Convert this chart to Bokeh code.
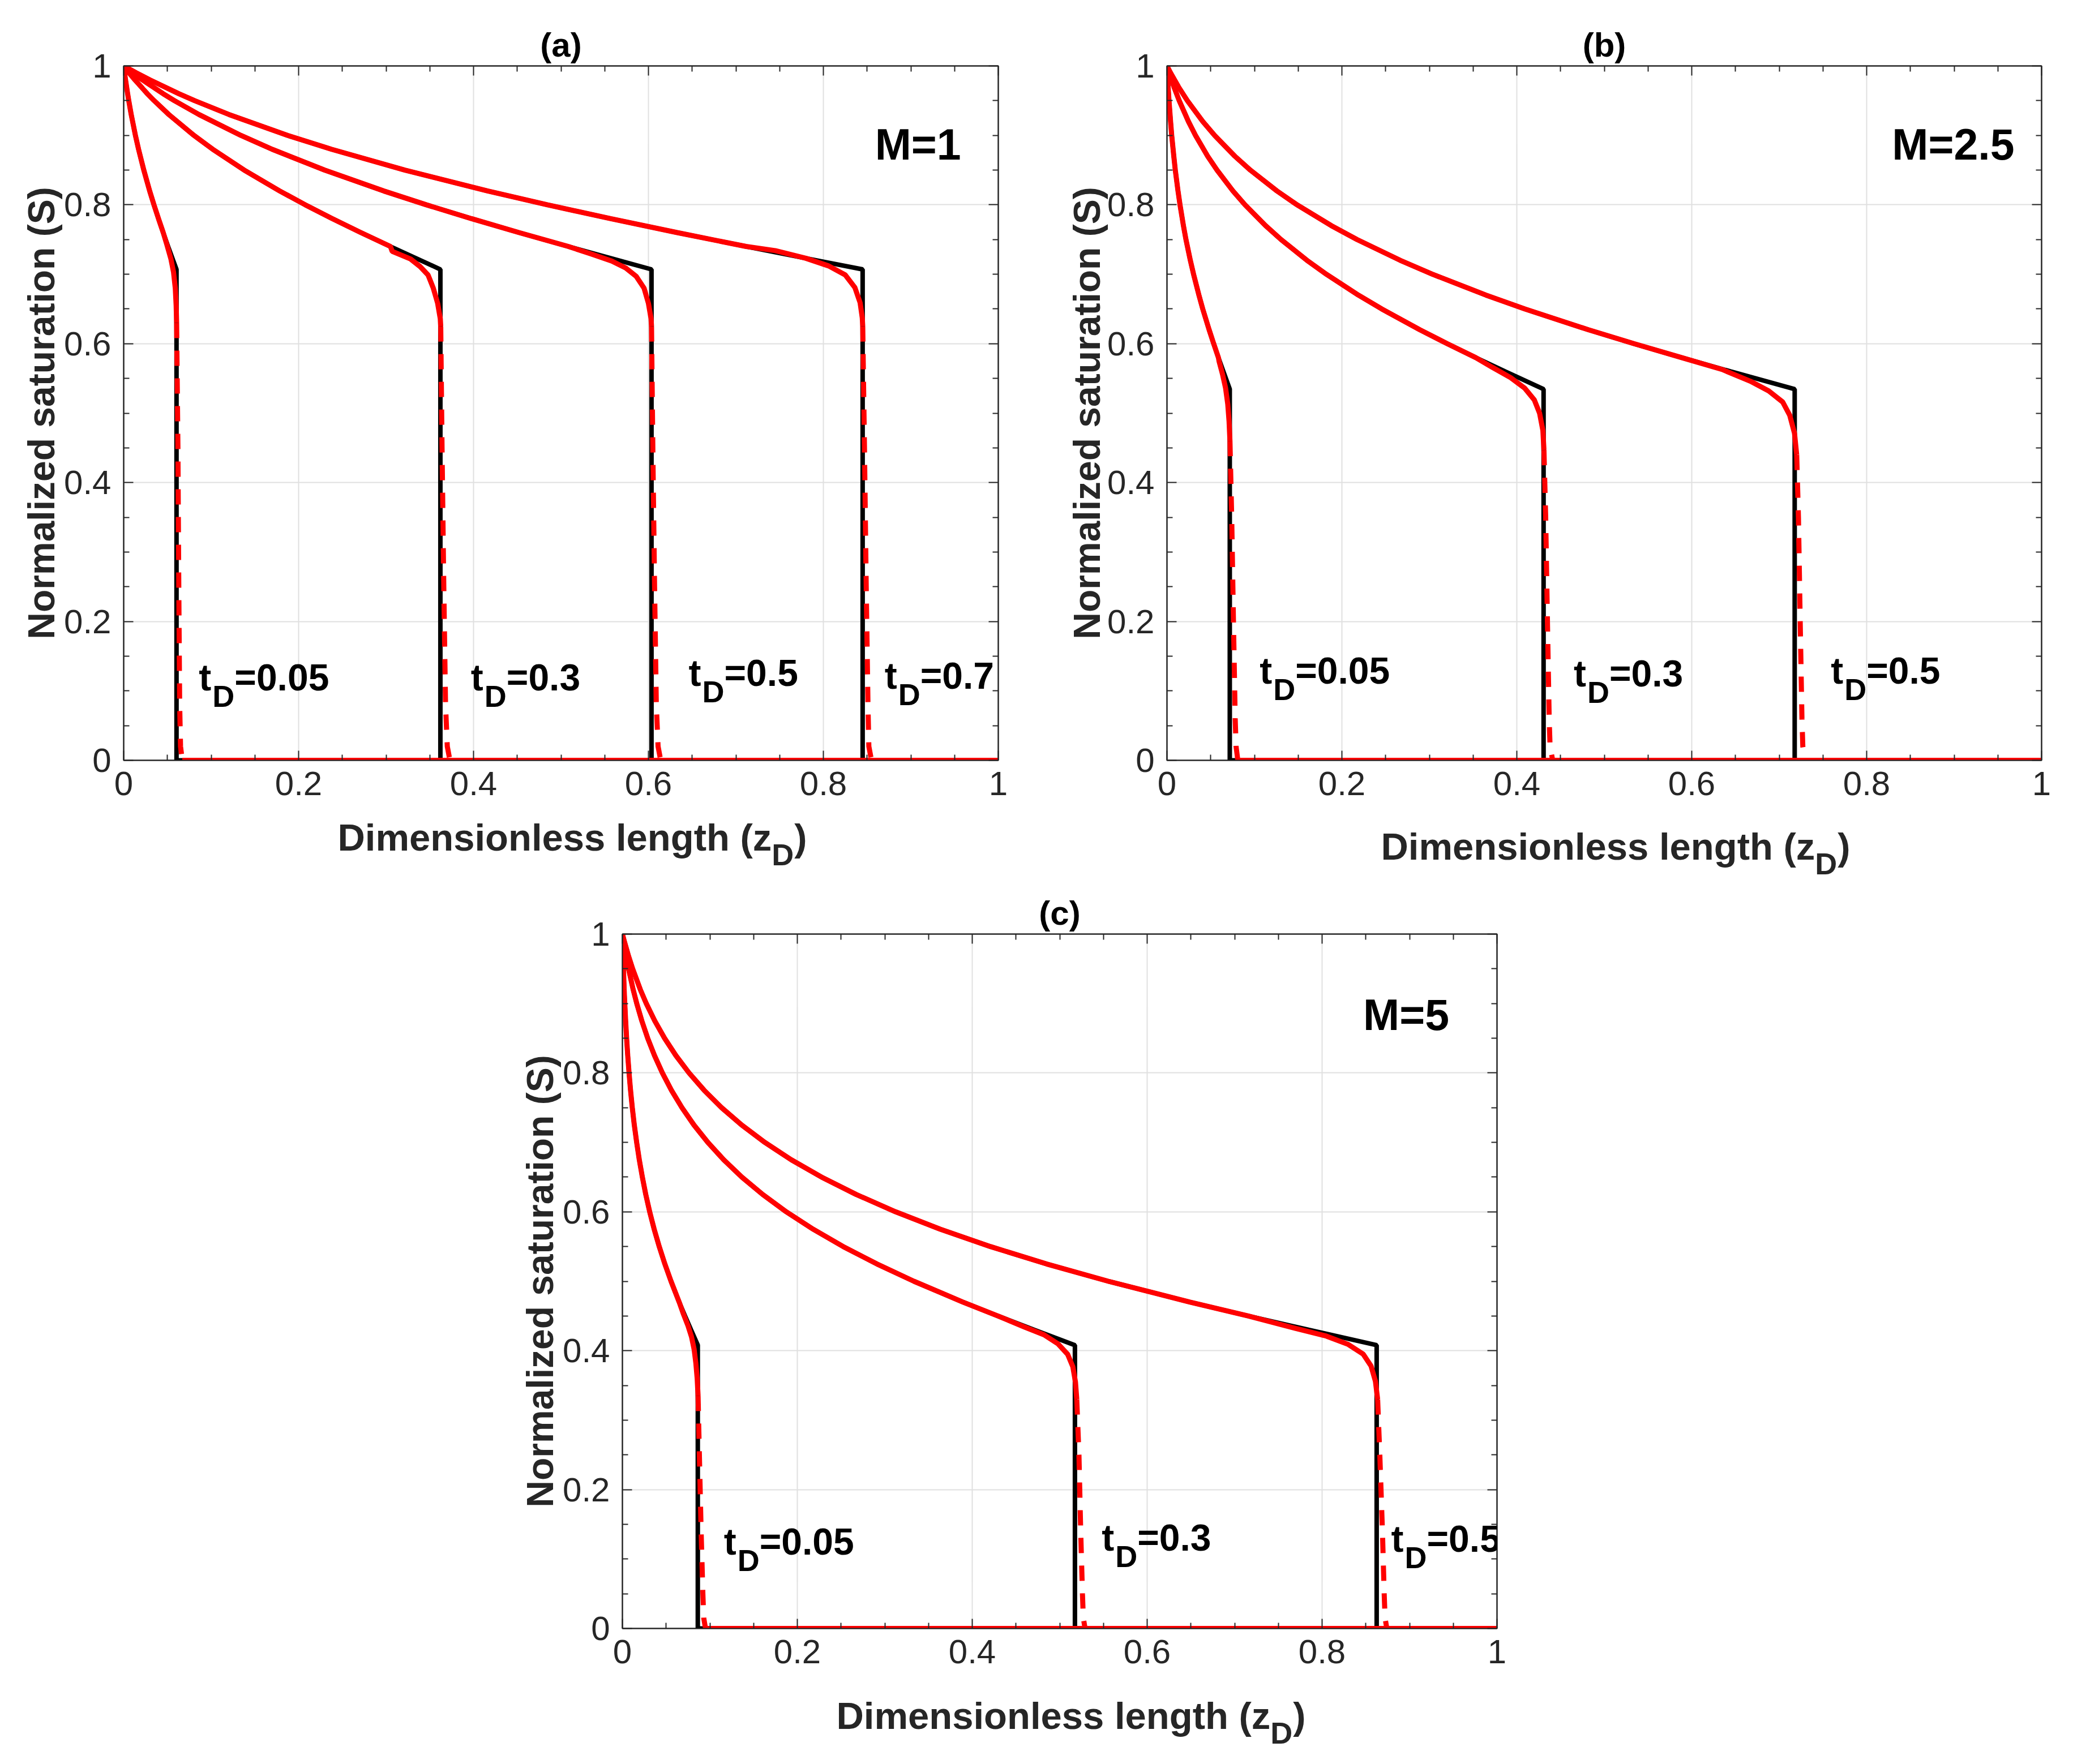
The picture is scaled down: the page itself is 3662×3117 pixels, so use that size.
from bokeh.plotting import figure
from bokeh.models import (Range1d, FixedTicker, LinearAxis, Label,
                          CustomJSTickFormatter, Spacer)
from bokeh.layouts import column, row
from bokeh.embed import file_html
from bokeh.resources import INLINE

# ---------------- data ----------------
MAJOR_TICKS = [0, 0.2, 0.4, 0.6, 0.8, 1.0]
MINOR_TICKS = [0.05, 0.1, 0.15, 0.25, 0.3, 0.35, 0.45, 0.5, 0.55,
               0.65, 0.7, 0.75, 0.85, 0.9, 0.95]

# Panel (a): M = 1
A_TD = ["0.05", "0.3", "0.5", "0.7"]
A_S = [1.0, 0.99, 0.98, 0.96, 0.95, 0.93, 0.90, 0.88, 0.85, 0.82, 0.80,
       0.78, 0.76, 0.74, 0.72, 0.707]
A_Z1 = [0, 0.001, 0.0021, 0.0045, 0.0058, 0.0086, 0.0134, 0.017, 0.023,
        0.0297, 0.0346, 0.0398, 0.0452, 0.0508, 0.0566, 0.0604]
A_Z2 = [0, 0.0062, 0.0128, 0.027, 0.0348, 0.0516, 0.0803, 0.1018, 0.1378,
        0.1783, 0.2076, 0.2387, 0.2712, 0.305, 0.3396, 0.3621]
A_Z3 = [0, 0.0103, 0.0213, 0.0451, 0.058, 0.0861, 0.1339, 0.1697, 0.2297,
        0.2972, 0.346, 0.3978, 0.4521, 0.5084, 0.566, 0.6035]
A_Z4 = [0, 0.0144, 0.0298, 0.0631, 0.0812, 0.1205, 0.1874, 0.2376, 0.3216,
        0.416, 0.4844, 0.5569, 0.6329, 0.7117, 0.7924, 0.8449]
# numerical (red) solution near the front: solid part, then dashed drop
A_RT1_Z = [0.0495, 0.054, 0.057, 0.059, 0.060, 0.0605]
A_RT1_S = [0.742, 0.722, 0.703, 0.680, 0.655, 0.630]
A_RT2_Z = [0.307, 0.328, 0.339, 0.348, 0.354, 0.359, 0.362, 0.3625]
A_RT2_S = [0.733, 0.722, 0.711, 0.699, 0.680, 0.658, 0.636, 0.625]
A_RT3_Z = [0.535, 0.558, 0.574, 0.586, 0.595, 0.600, 0.603, 0.6035]
A_RT3_S = [0.729, 0.719, 0.709, 0.697, 0.680, 0.658, 0.636, 0.625]
A_RT4_Z = [0.745, 0.780, 0.806, 0.825, 0.836, 0.842, 0.8445, 0.845]
A_RT4_S = [0.734, 0.723, 0.712, 0.699, 0.681, 0.659, 0.637, 0.625]
A_RD1_Z = [0.0605, 0.062, 0.063, 0.064, 0.065, 0.067]
A_RD2_Z = [0.3625, 0.364, 0.366, 0.368, 0.370, 0.373]
A_RD3_Z = [0.6035, 0.605, 0.607, 0.609, 0.611, 0.614]
A_RD4_Z = [0.845, 0.847, 0.849, 0.851, 0.852, 0.855]
A_RD1_S = [0.630, 0.45, 0.25, 0.08, 0.02, 0.0]
A_RD_S = [0.625, 0.45, 0.25, 0.08, 0.02, 0.0]

# Panel (b): M = 2.5
B_TD = ["0.05", "0.3", "0.5"]
B_S = [1.0, 0.99, 0.97, 0.95, 0.92, 0.9, 0.87, 0.85, 0.82, 0.8, 0.77, 0.75,
       0.72, 0.7, 0.67, 0.65, 0.62, 0.6, 0.58, 0.56, 0.5345]
B_Z1 = [0, 0.0004, 0.0013, 0.0023, 0.0041, 0.0054, 0.0078, 0.0095, 0.0126,
        0.0149, 0.0188, 0.0217, 0.0267, 0.0304, 0.0365, 0.0409, 0.0482,
        0.0534, 0.0588, 0.0645, 0.0718]
B_Z2 = [0, 0.0025, 0.0079, 0.014, 0.0245, 0.0326, 0.0465, 0.0572, 0.0754,
        0.0892, 0.1127, 0.1304, 0.1601, 0.1822, 0.2188, 0.2456, 0.2892,
        0.3204, 0.353, 0.3867, 0.4306]
B_Z3 = [0, 0.0041, 0.0131, 0.0233, 0.0409, 0.0544, 0.0776, 0.0953, 0.1257,
        0.1487, 0.1879, 0.2173, 0.2668, 0.3036, 0.3647, 0.4093, 0.482,
        0.534, 0.5884, 0.6446, 0.7177]
B_RT1_Z = [0.0595, 0.0635, 0.067, 0.0695, 0.071, 0.072]
B_RT1_S = [0.575, 0.556, 0.536, 0.513, 0.488, 0.460]
B_RT2_Z = [0.372, 0.393, 0.409, 0.420, 0.426, 0.4298, 0.431]
B_RT2_S = [0.566, 0.551, 0.536, 0.519, 0.500, 0.475, 0.447]
B_RT3_Z = [0.6345, 0.667, 0.688, 0.704, 0.712, 0.7175, 0.720]
B_RT3_S = [0.563, 0.546, 0.532, 0.516, 0.497, 0.471, 0.440]
B_RD1_Z = [0.072, 0.074, 0.076, 0.078, 0.079, 0.081]
B_RD1_S = [0.46, 0.35, 0.2, 0.06, 0.02, 0.0]
B_RD2_Z = [0.431, 0.433, 0.435, 0.437, 0.438, 0.441]
B_RD2_S = [0.447, 0.35, 0.2, 0.06, 0.02, 0.0]
B_RD3_Z = [0.720, 0.722, 0.724, 0.726, 0.727, 0.730]
B_RD3_S = [0.44, 0.35, 0.2, 0.06, 0.02, 0.0]

# Panel (c): M = 5
C_TD = ["0.05", "0.3", "0.5"]
C_S = [1.0, 0.99, 0.97, 0.95, 0.92, 0.9, 0.875, 0.85, 0.825, 0.8, 0.775,
       0.75, 0.725, 0.7, 0.675, 0.65, 0.625, 0.6, 0.575, 0.55, 0.525, 0.5,
       0.47, 0.45, 0.43, 0.408]
C_Z1 = [0, 0.0002, 0.0007, 0.0012, 0.002, 0.0027, 0.0037, 0.0048, 0.0061,
        0.0076, 0.0093, 0.0113, 0.0136, 0.0163, 0.0193, 0.0228, 0.0267,
        0.0312, 0.0363, 0.0421, 0.0485, 0.0556, 0.0649, 0.0716, 0.0785,
        0.0862]
C_Z2 = [0, 0.0012, 0.0039, 0.007, 0.0123, 0.0164, 0.0222, 0.0289, 0.0367,
        0.0457, 0.0561, 0.0681, 0.0818, 0.0977, 0.1158, 0.1366, 0.1604,
        0.1874, 0.218, 0.2524, 0.2909, 0.3333, 0.3894, 0.4294, 0.4711,
        0.5174]
C_Z3 = [0, 0.0021, 0.0066, 0.0117, 0.0205, 0.0273, 0.037, 0.0482, 0.0612,
        0.0762, 0.0935, 0.1134, 0.1364, 0.1628, 0.193, 0.2277, 0.2673,
        0.3124, 0.3634, 0.4207, 0.4848, 0.5556, 0.649, 0.7157, 0.7851,
        0.8624]
C_RT1_Z = [0.070, 0.075, 0.079, 0.082, 0.084, 0.0855, 0.0865]
C_RT1_S = [0.452, 0.436, 0.420, 0.402, 0.382, 0.360, 0.335]
C_RT2_Z = [0.460, 0.482, 0.498, 0.509, 0.515, 0.518, 0.5195]
C_RT2_S = [0.434, 0.423, 0.410, 0.395, 0.377, 0.355, 0.330]
C_RT3_Z = [0.770, 0.805, 0.830, 0.847, 0.856, 0.861, 0.8635]
C_RT3_S = [0.432, 0.421, 0.409, 0.395, 0.378, 0.356, 0.330]
C_RD1_Z = [0.0865, 0.088, 0.090, 0.092, 0.093, 0.095]
C_RD1_S = [0.335, 0.25, 0.14, 0.05, 0.015, 0.0]
C_RD2_Z = [0.5195, 0.522, 0.524, 0.526, 0.527, 0.529]
C_RD3_Z = [0.8635, 0.866, 0.869, 0.871, 0.872, 0.874]
C_RD_S = [0.33, 0.25, 0.14, 0.05, 0.015, 0.0]

# label anchors (data coordinates of the "t" of each t_D label)
A_LBL_X = [0.086, 0.397, 0.646, 0.870]
A_LBL_Y = [0.119, 0.119, 0.126, 0.122]
B_LBL_X = [0.106, 0.465, 0.759]
B_LBL_Y = [0.129, 0.125, 0.129]
C_LBL_X = [0.116, 0.548, 0.879]
C_LBL_Y = [0.125, 0.131, 0.129]

# ---------------- styling ----------------
FONT = "Liberation Sans"
AX = "#262626"
GRID = "#e0e0e0"
RED = "#ff0000"
BOTTOM = 100      # px below the frame reserved for the tick labels
LBL_H = 120       # height of the strip holding the x-axis title


def label(p, x, y, text, size, xo=0, yo=0, align="left", baseline="alphabetic",
          color="black", bold=True):
    p.add_layout(Label(x=x, y=y, x_offset=xo, y_offset=yo, text=text,
                       text_font=FONT, text_font_size=size,
                       text_font_style="bold" if bold else "normal",
                       text_color=color, text_align=align,
                       text_baseline=baseline))


def style_axis(ax, show_labels):
    ax.ticker = FixedTicker(ticks=MAJOR_TICKS, minor_ticks=MINOR_TICKS)
    ax.major_tick_in = 17
    ax.major_tick_out = 0
    ax.minor_tick_in = 10
    ax.minor_tick_out = 0
    ax.major_tick_line_color = AX
    ax.minor_tick_line_color = AX
    ax.major_tick_line_width = 2
    ax.minor_tick_line_width = 2
    ax.axis_line_color = AX
    ax.axis_line_width = 2
    if show_labels:
        ax.formatter = CustomJSTickFormatter(
            code="return (Math.round(tick*10)/10).toString();")
        ax.major_label_text_font = FONT
        ax.major_label_text_font_size = "60px"
        ax.major_label_text_color = AX
    else:
        ax.formatter = CustomJSTickFormatter(code="return '';")
        ax.major_label_standoff = 0
        ax.major_label_text_font_size = "10px"


def panel(width, bl, br, bt, title, S, Zs, RTz, RTs, RDz, RDs,
          tds, lx, ly, mtxt, mx, my, ylab_standoff, title_standoff):
    p = figure(width=width, height=bt + 1227 + BOTTOM,
               x_range=Range1d(0, 1), y_range=Range1d(0, 1),
               output_backend="svg", toolbar_location=None,
               min_border_left=bl, min_border_right=br,
               min_border_top=bt, min_border_bottom=BOTTOM)
    p.background_fill_color = "white"
    p.border_fill_color = "white"
    p.outline_line_color = AX
    p.outline_line_width = 2

    p.title.text = title
    p.title.align = "center"
    p.title.text_font = FONT
    p.title.text_font_size = "60px"
    p.title.text_font_style = "bold"
    p.title.text_color = "black"
    p.title.standoff = title_standoff

    style_axis(p.xaxis[0], True)
    style_axis(p.yaxis[0], True)
    p.xaxis[0].major_label_standoff = 20
    p.yaxis[0].major_label_standoff = 22
    p.yaxis[0].axis_label = "Normalized saturation (S)"
    p.yaxis[0].axis_label_text_font = FONT
    p.yaxis[0].axis_label_text_font_size = "66px"
    p.yaxis[0].axis_label_text_font_style = "bold"
    p.yaxis[0].axis_label_text_color = AX
    p.yaxis[0].axis_label_standoff = ylab_standoff
    top = LinearAxis()
    style_axis(top, False)
    p.add_layout(top, "above")
    right = LinearAxis()
    style_axis(right, False)
    p.add_layout(right, "right")

    tk = FixedTicker(ticks=MAJOR_TICKS, minor_ticks=MINOR_TICKS)
    for g in (p.xgrid[0], p.ygrid[0]):
        g.ticker = tk
        g.grid_line_color = GRID
        g.grid_line_width = 2

    # analytical (black)
    for Z in Zs:
        p.line(Z + [Z[-1], 1.0], S + [0.0, 0.0], line_color="black",
               line_width=8)
    # numerical (red)
    for Z, tz, ts, dz, ds in zip(Zs, RTz, RTs, RDz, RDs):
        keep = [(z, s) for z, s in zip(Z, S) if s > ts[0]]
        xs = [k[0] for k in keep] + tz
        ys = [k[1] for k in keep] + ts
        p.line(xs, ys, line_color=RED, line_width=9)
        p.line(dz, ds, line_color=RED, line_width=9, line_dash="27 22")
        p.line([dz[-1], 1.0], [0.0, 0.0], line_color=RED, line_width=9)

    for td, x, y in zip(tds, lx, ly):
        label(p, x, y, "t", "66px")
        label(p, x, y, "D", "54px", xo=24, yo=-33)
        label(p, x, y, "=" + td, "66px", xo=63)
    label(p, mx, my, mtxt, "77px")
    return p


def xtitle(width, bl, br, base):
    # strip below a panel, same horizontal frame, holding the x-axis title
    q = figure(width=width, height=LBL_H, x_range=Range1d(0, 1),
               y_range=Range1d(-(BOTTOM + LBL_H), -BOTTOM), title=None,
               x_axis_type=None, y_axis_type=None, output_backend="svg",
               toolbar_location=None, min_border_left=bl, min_border_right=br,
               min_border_top=0, min_border_bottom=0)
    q.outline_line_color = None
    q.background_fill_color = "white"
    q.border_fill_color = "white"
    q.xgrid.visible = False
    q.ygrid.visible = False
    label(q, 0.741, -base, "Dimensionless length (z", "67px", align="right",
          color=AX)
    label(q, 0.741, -base, "D", "54px", yo=-30, color=AX)
    label(q, 0.741, -base, ")", "67px", xo=40, color=AX)
    return q


pa = panel(1840, 218, 77, 116, "(a)", A_S,
           [A_Z1, A_Z2, A_Z3, A_Z4],
           [A_RT1_Z, A_RT2_Z, A_RT3_Z, A_RT4_Z],
           [A_RT1_S, A_RT2_S, A_RT3_S, A_RT4_S],
           [A_RD1_Z, A_RD2_Z, A_RD3_Z, A_RD4_Z],
           [A_RD1_S, A_RD_S, A_RD_S, A_RD_S],
           A_TD, A_LBL_X, A_LBL_Y, "M=1", 0.859, 0.887, 0, 8)

pb = panel(1806, 221, 40, 116, "(b)", B_S,
           [B_Z1, B_Z2, B_Z3],
           [B_RT1_Z, B_RT2_Z, B_RT3_Z],
           [B_RT1_S, B_RT2_S, B_RT3_S],
           [B_RD1_Z, B_RD2_Z, B_RD3_Z],
           [B_RD1_S, B_RD2_S, B_RD3_S],
           B_TD, B_LBL_X, B_LBL_Y, "M=2.5", 0.829, 0.887, -4, 8)

pc = panel(1884, 219, 120, 87, "(c)", C_S,
           [C_Z1, C_Z2, C_Z3],
           [C_RT1_Z, C_RT2_Z, C_RT3_Z],
           [C_RT1_S, C_RT2_S, C_RT3_S],
           [C_RD1_Z, C_RD2_Z, C_RD3_Z],
           [C_RD1_S, C_RD_S, C_RD_S],
           C_TD, C_LBL_X, C_LBL_Y, "M=5", 0.847, 0.884, 0, 8)

col_a = column(pa, xtitle(1840, 218, 77, 136))
col_b = column(pb, xtitle(1806, 221, 40, 152))
col_c = column(pc, xtitle(1884, 219, 120, 154))

layout = column(row(col_a, col_b),
                row(Spacer(width=880, height=87 + 1227 + BOTTOM + LBL_H), col_c))

with open("out.html", "w") as f:
    f.write(file_html(layout, INLINE, title="Saturation profiles"))
